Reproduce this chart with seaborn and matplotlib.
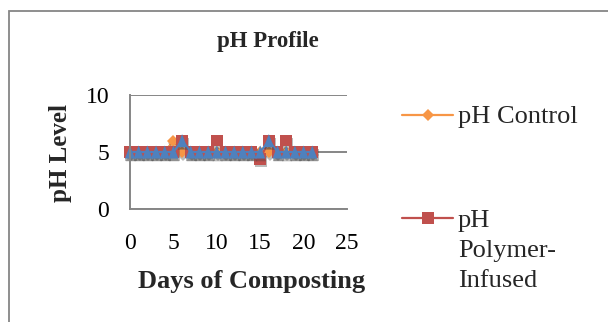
import matplotlib
matplotlib.use("Agg")
import matplotlib.pyplot as plt
import matplotlib.patheffects as pe
from matplotlib.lines import Line2D
from matplotlib.patches import Rectangle
import seaborn as sns

# ---- data ----
days = list(range(22))
ph_control = [5, 5, 5, 5, 5, 6, 5, 5, 5, 5, 5, 5, 5, 5, 5, 5, 5, 5, 5, 5, 5, 5]
ph_polymer = [5, 5, 5, 5, 5, 5, 6, 5, 5, 5, 6, 5, 5, 5, 5, 4.4, 6, 5, 6, 5, 5, 5]
ph_third = [5, 5, 5, 5, 5, 5, 6, 5, 5, 5, 5, 5, 5, 5, 5, 5, 6, 5, 5, 5, 5, 5]
legend_labels = ["pH Control", "pH\nPolymer-\nInfused"]
title = "pH Profile"
xlabel = "Days of Composting"
ylabel = "pH Level"
xticks = [0, 5, 10, 15, 20, 25]
yticks = [0, 5, 10]

sns.set_style("white")
plt.rcParams["font.family"] = ["Liberation Serif", "DejaVu Serif"]

W, H = 608, 322
fig = plt.figure(figsize=(W / 100, H / 100), dpi=100)
ax = fig.add_axes([130 / W, 113 / H, 217 / W, 114 / H])

ORANGE = "#F79646"
RED = "#C0504D"
BLUE = "#4F81BD"
GRAY = "#868686"

tall_tri = [(0, 1), (-0.78, -1), (0.78, -1), (0, 1)]

shadow_m = [pe.SimplePatchShadow(offset=(0.6, -2.0), shadow_rgbFace="#404040", alpha=0.35), pe.Normal()]

series = [
    (ph_control, ORANGE, "D", 6.2),
    (ph_polymer, RED, "s", 8.4),
    (ph_third, BLUE, tall_tri, 9.4),
]
for vals, col, mk, ms in series:
    sns.lineplot(x=days, y=vals, ax=ax, color=col, linewidth=1.6, clip_on=False)
    sns.lineplot(x=days, y=vals, ax=ax, color=col, linestyle="none", marker=mk,
                 markersize=ms, markeredgewidth=0, clip_on=False, path_effects=shadow_m)

ax.set_xlim(0, 25)
ax.set_ylim(0, 10)
ax.set_xticks(xticks)
ax.set_yticks(yticks)
ax.tick_params(axis="both", length=0, labelsize=17, colors="black")
ax.tick_params(axis="x", pad=17)
ax.tick_params(axis="y", pad=15)
for s in ["top", "right"]:
    ax.spines[s].set_visible(False)
for s in ["left", "bottom"]:
    ax.spines[s].set_color(GRAY)
    ax.spines[s].set_linewidth(1.4)
ax.set_axisbelow(True)
ax.yaxis.grid(True, color=GRAY, linewidth=1.4)
ax.xaxis.grid(False)
ax.set_xlabel("")
ax.set_ylabel("")

# titles / labels
fig.text(267.5 / W, 1 - 42 / H, title, ha="center", va="center", fontsize=16.5, fontweight="bold")
fig.text(252 / W, 1 - 288 / H, xlabel, ha="center", va="baseline", fontsize=19, fontweight="bold")
fig.text(60 / W, 1 - 153 / H, ylabel, ha="center", va="center", rotation=90, fontsize=18, fontweight="bold")

# legend (two entries)
leg_entries = [(ORANGE, "D", 6.2, 115), (RED, "s", 8.4, 218)]
for col, mk, ms, yy in leg_entries:
    fy = 1 - yy / H
    fig.add_artist(Line2D([402 / W, 453 / W], [fy, fy], transform=fig.transFigure, color=col, linewidth=1.6))
    fig.add_artist(Line2D([428 / W], [fy], transform=fig.transFigure, color=col, marker=mk,
                          markersize=ms, markeredgewidth=0, linestyle="none"))
fig.text(458 / W, 1 - 123.3 / H, legend_labels[0], ha="left", va="baseline", fontsize=19)
base = [226.7, 257.5, 286.7]
for t, b in zip(legend_labels[1].split("\n"), base):
    fig.text(458 / W, 1 - b / H, t, ha="left", va="baseline", fontsize=19)

# outer chart border (only top & left visible)
fig.add_artist(Rectangle((8.5 / W, -0.2), 1.2, (H - 11.5) / H + 0.2, transform=fig.transFigure,
                         fill=False, edgecolor=GRAY, linewidth=1.3))

fig.savefig("out.png", dpi=100)
